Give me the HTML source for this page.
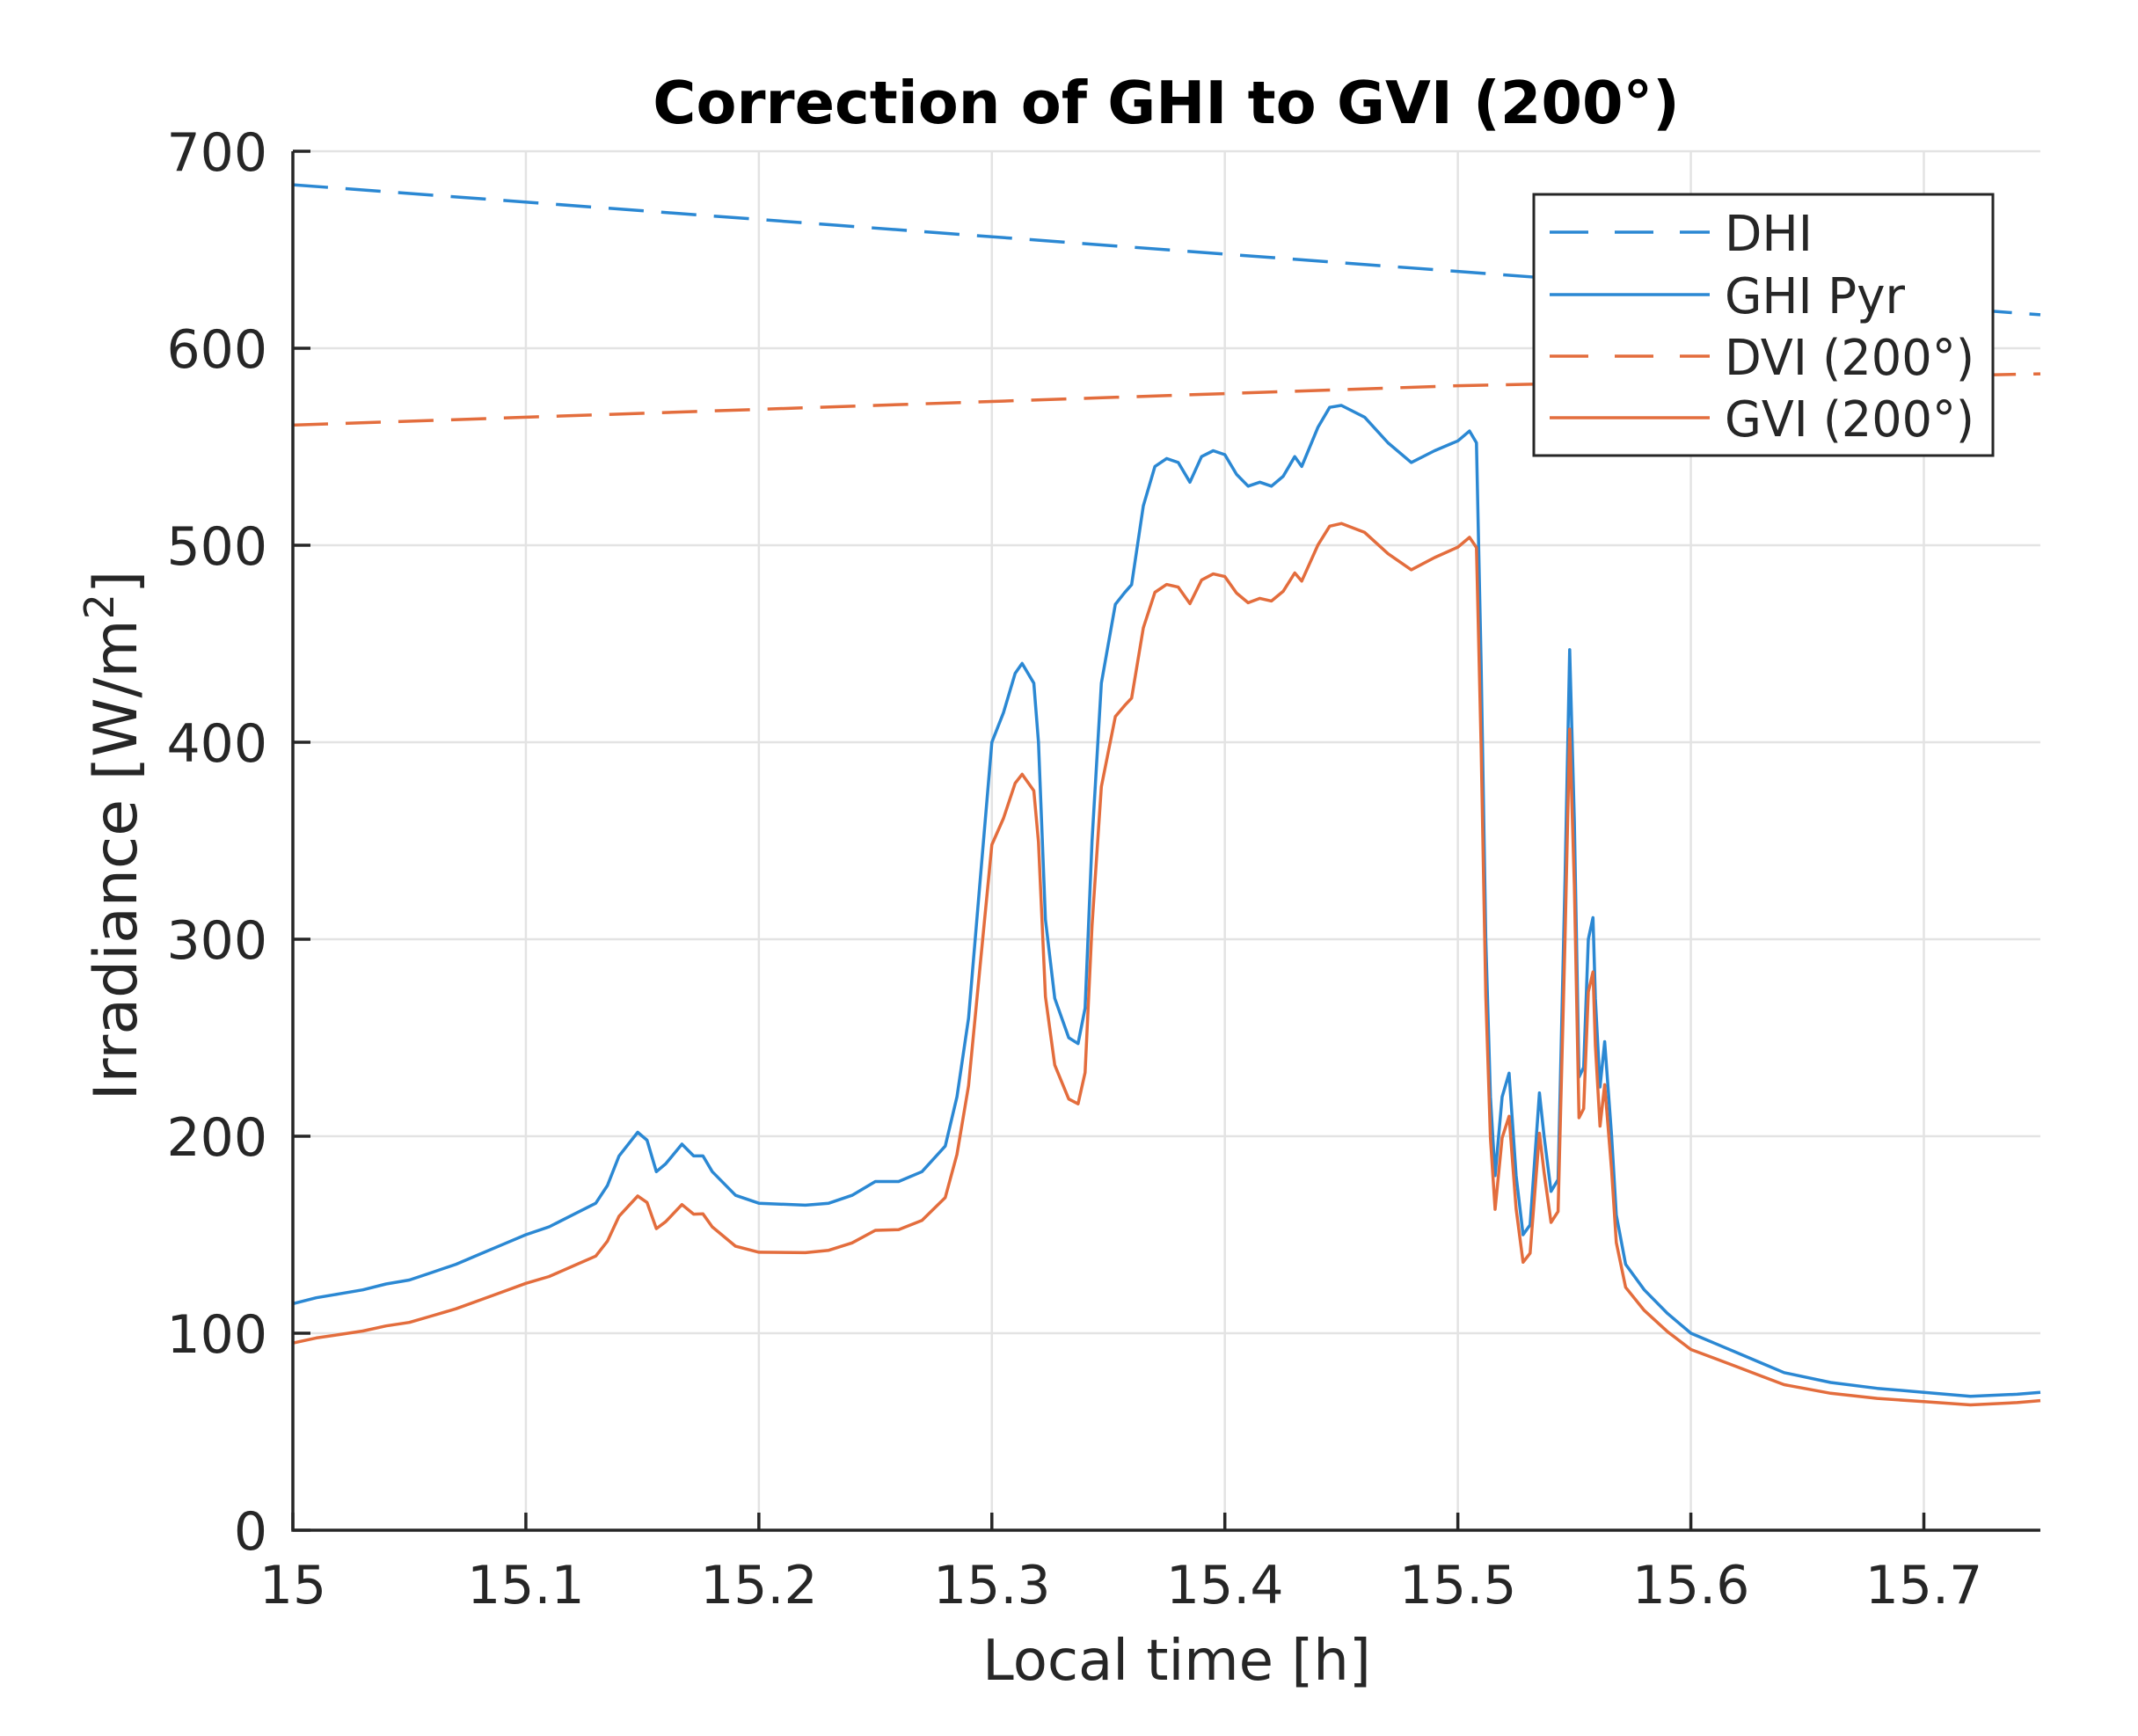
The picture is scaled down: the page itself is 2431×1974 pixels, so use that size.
<!DOCTYPE html>
<html><head><meta charset="utf-8"><style>
html,body{margin:0;padding:0;background:#fff;}
svg text{font-family:"DejaVu Sans","Liberation Sans",sans-serif;fill:#262626;}
</style></head><body>
<svg id="s" width="2431" height="1969" viewBox="0 0 2431 1969" xmlns="http://www.w3.org/2000/svg">
<rect width="2431" height="1969" fill="#fff"/>
<g id="grid" stroke="#e3e3e3" stroke-width="2.5"></g>
<g id="data" fill="none" stroke-width="3.5" stroke-linejoin="round"></g>
<g id="axes" stroke="#262626" stroke-width="3.5" fill="none"></g>
<g id="labels" font-size="60"></g>
<text x="1326" y="140" font-size="67" font-weight="bold" text-anchor="middle" style="fill:#000">Correction of GHI to GVI (200°)</text>
<text x="1338" y="1910" font-size="64" text-anchor="middle">Local time [h]</text>
<text transform="translate(155,950) rotate(-90)" font-size="68" text-anchor="middle">Irradiance [W/m<tspan dy="-26" font-size="46">2</tspan><tspan dy="26">]</tspan></text>
<g id="legend">
<rect x="1744" y="221" width="522" height="297" fill="#fff" stroke="#262626" stroke-width="3"/>
<line x1="1762" y1="264" x2="1944" y2="264" stroke="#2b88d3" stroke-width="3.5" stroke-dasharray="44 30"/>
<line x1="1762" y1="335" x2="1944" y2="335" stroke="#2b88d3" stroke-width="3.5"/>
<line x1="1762" y1="405" x2="1944" y2="405" stroke="#e36d3d" stroke-width="3.5" stroke-dasharray="44 30"/>
<line x1="1762" y1="475" x2="1944" y2="475" stroke="#e36d3d" stroke-width="3.5"/>
<g font-size="56">
<text x="1961" y="285" textLength="100" lengthAdjust="spacingAndGlyphs">DHI</text>
<text x="1961" y="356" textLength="205" lengthAdjust="spacingAndGlyphs">GHI Pyr</text>
<text x="1961" y="426" textLength="284" lengthAdjust="spacingAndGlyphs">DVI (200°)</text>
<text x="1961" y="496" textLength="284" lengthAdjust="spacingAndGlyphs">GVI (200°)</text>
</g>
</g>
</svg>
<script>
var NS="http://www.w3.org/2000/svg";
function X(t){return 333+(t-15)*2649.3;}
function Y(v){return 1740-2.24*v;}
function el(p,tag,a){var e=document.createElementNS(NS,tag);for(var k in a)e.setAttribute(k,a[k]);p.appendChild(e);return e;}
var grid=document.getElementById('grid'),axes=document.getElementById('axes'),lab=document.getElementById('labels'),data=document.getElementById('data');
var xt=[15,15.1,15.2,15.3,15.4,15.5,15.6,15.7],xl=["15","15.1","15.2","15.3","15.4","15.5","15.6","15.7"];
xt.forEach(function(t,i){var x=X(t);if(i>0)el(grid,'line',{x1:x,y1:Y(700),x2:x,y2:Y(0)});
el(axes,'line',{x1:x,y1:Y(0),x2:x,y2:Y(0)-20});
var tx=el(lab,'text',{x:x,y:1823,'text-anchor':'middle'});tx.textContent=xl[i];});
for(var v=0;v<=700;v+=100){var y=Y(v);if(v>0)el(grid,'line',{x1:X(15),y1:y,x2:X(15.75),y2:y});
el(axes,'line',{x1:X(15),y1:y,x2:X(15)+20,y2:y});
var ty=el(lab,'text',{x:304,y:y+22,'text-anchor':'end'});ty.textContent=v;}
el(axes,'polyline',{points:X(15)+','+Y(700)+' '+X(15)+','+Y(0)+' '+X(15.75)+','+Y(0)});
var g=[[15,115],[15.01,118],[15.02,120],[15.03,122],[15.04,125],[15.05,127],[15.06,131],[15.07,135],[15.08,140],[15.09,145],[15.1,150],[15.11,154],[15.12,160],[15.13,166],[15.135,175],[15.14,190],[15.148,202],[15.152,198],[15.156,182],[15.16,186],[15.167,196],[15.172,190],[15.176,190],[15.18,182],[15.19,170],[15.2,166],[15.22,165],[15.23,166],[15.24,170],[15.25,177],[15.26,177],[15.27,182],[15.28,195],[15.285,220],[15.29,260],[15.295,330],[15.3,400],[15.305,415],[15.31,435],[15.313,440],[15.318,430],[15.32,400],[15.323,310],[15.327,270],[15.333,250],[15.337,247],[15.34,265],[15.343,350],[15.347,430],[15.353,470],[15.357,476],[15.36,480],[15.365,520],[15.37,540],[15.375,544],[15.38,542],[15.385,532],[15.39,545],[15.395,548],[15.4,546],[15.405,536],[15.41,530],[15.415,532],[15.42,530],[15.425,535],[15.43,545],[15.433,540],[15.44,560],[15.445,570],[15.45,571],[15.46,565],[15.47,552],[15.48,542],[15.49,548],[15.5,553],[15.505,558],[15.508,552],[15.51,440],[15.512,300],[15.514,220],[15.516,180],[15.519,220],[15.522,232],[15.525,180],[15.528,150],[15.531,155],[15.535,222],[15.537,200],[15.54,172],[15.543,178],[15.546,330],[15.548,447],[15.55,360],[15.552,230],[15.554,235],[15.556,300],[15.558,311],[15.559,270],[15.561,225],[15.563,248],[15.566,200],[15.568,160],[15.572,135],[15.58,122],[15.59,110],[15.6,100],[15.61,95],[15.62,90],[15.63,85],[15.64,80],[15.66,75],[15.68,72],[15.7,70],[15.72,68],[15.74,69],[15.75,70]];
var rr=[[15,0.826],[15.15,0.84],[15.3,0.87],[15.45,0.895],[15.55,0.91],[15.75,0.94]];
function r(t){for(var i=0;i<rr.length-1;i++){if(t<=rr[i+1][0]){var f=(t-rr[i][0])/(rr[i+1][0]-rr[i][0]);return rr[i][1]+f*(rr[i+1][1]-rr[i][1]);}}return 0.94;}
function pts(a){return a.map(function(p){return X(p[0]).toFixed(1)+','+Y(p[1]).toFixed(1);}).join(' ');}
el(data,'polyline',{points:pts([[15,683],[15.75,617]]),stroke:'#2b88d3','stroke-dasharray':'40 20'});
el(data,'polyline',{points:pts([[15,561],[15.25,571],[15.5,581],[15.75,587]]),stroke:'#e36d3d','stroke-dasharray':'40 20'});
el(data,'polyline',{points:pts(g),stroke:'#2b88d3'});
el(data,'polyline',{points:pts(g.map(function(p){return [p[0],p[1]*r(p[0])];})),stroke:'#e36d3d'});
</script>
</body></html>
